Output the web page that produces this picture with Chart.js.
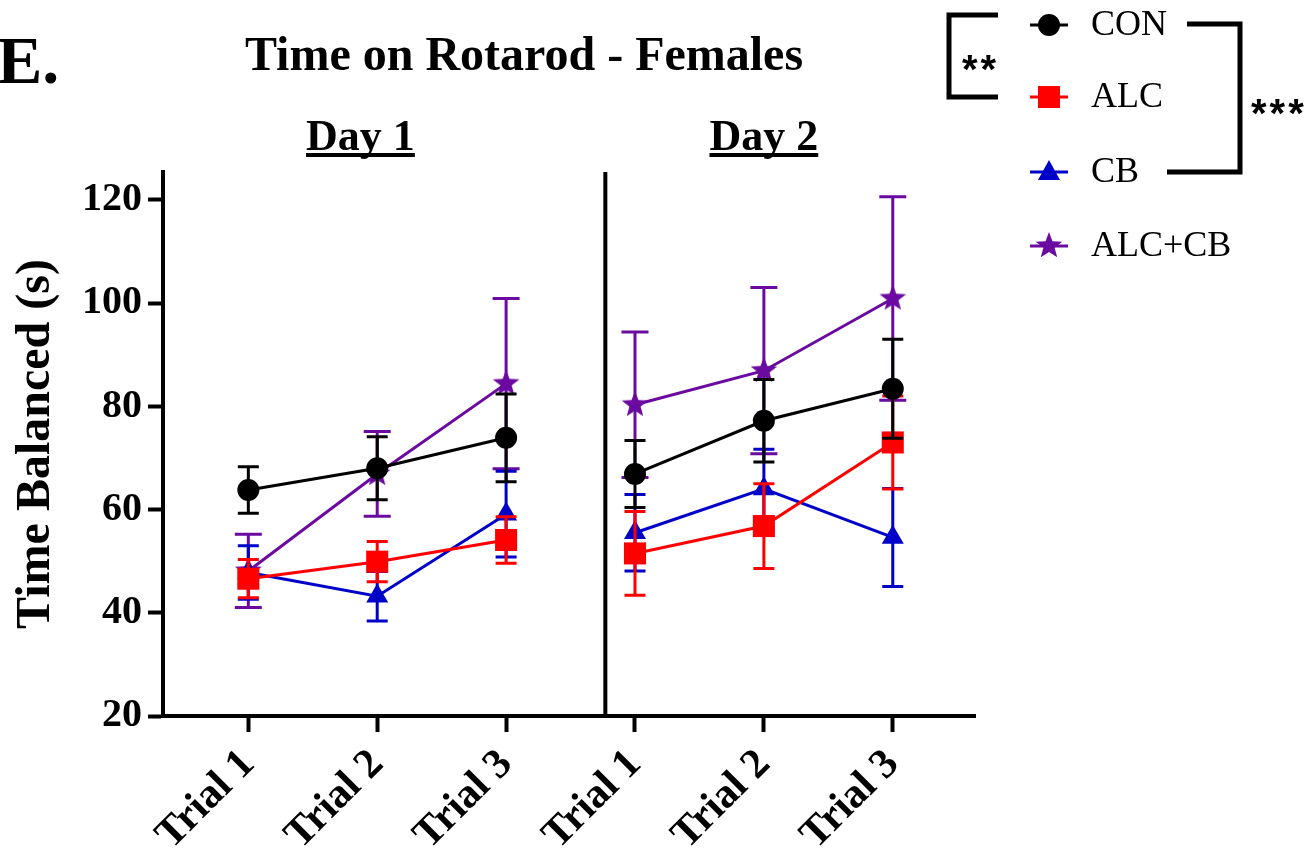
<!DOCTYPE html>
<html>
<head>
<meta charset="utf-8">
<script src="https://cdn.jsdelivr.net/npm/chart.js@4.4.0/dist/chart.umd.min.js"></script>
<style>
  body { margin: 0; background: #fff; }
  #wrap { width: 1311px; height: 850px; }
</style>
</head>
<body>
<div id="wrap"><canvas id="rotarod" width="1311" height="850"></canvas></div>
<script>
// trials in order: Day 1 (1-3), Day 2 (4-6)
const trialPos    = [1, 2, 3, 4, 5, 6]
const trialLabels = ['Trial 1', 'Trial 2', 'Trial 3', 'Trial 1', 'Trial 2', 'Trial 3']
const dayLabels   = ['Day 1', 'Day 2']
const dayCenters  = [1.87, 5.0]
const dayBreak    = 3.77
const yTicks      = [20, 40, 60, 80, 100, 120]

// mean time balanced (s) and SEM per group
const conMean = [63.8, 68.0, 73.9, 66.9, 77.2, 83.4]
const conSem  = [4.5, 6.1, 8.5, 6.5, 8.0, 9.6]
const alcMean = [46.6, 49.9, 54.1, 51.5, 56.8, 73.0]
const alcSem  = [3.7, 3.9, 4.5, 8.1, 8.2, 9.0]
const cbMean  = [47.8, 43.2, 59.1, 55.5, 64.0, 54.6]
const cbSem   = [5.2, 4.8, 8.3, 7.4, 7.7, 9.5]
const mixMean = [48.1, 66.9, 84.4, 80.3, 86.9, 100.9]
const mixSem  = [7.1, 8.2, 16.5, 14.1, 16.1, 19.7]

const groupNames = ['CON', 'ALC', 'CB', 'ALC+CB']

const SERIF = '"Liberation Serif", "Times New Roman", serif'
const RED = '#ff0000', BLUE = '#0000c8', PURPLE = '#6a0aa0'

function drawStar(g, cx, cy, r, color) {
  g.beginPath()
  for (let k = 0; k < 10; k++) {
    const rr = k % 2 ? r * 0.42 : r
    const a = -Math.PI / 2 + k * Math.PI / 5
    g.lineTo(cx + rr * Math.cos(a), cy + rr * Math.sin(a))
  }
  g.closePath()
  g.fillStyle = color
  g.fill()
}

function starImage(color, r) {
  const c = document.createElement('canvas')
  c.width = c.height = Math.ceil(r * 2) + 2
  drawStar(c.getContext('2d'), c.width / 2, c.height / 2, r, color)
  return c
}
const starPt = starImage(PURPLE, 14)

function points(means) {
  return means.map((m, i) => ({ x: trialPos[i], y: m }))
}

// no line between the last trial of Day 1 and first of Day 2
const dayGap = { borderColor: c => c.p0DataIndex === 2 ? 'rgba(0,0,0,0)' : undefined }

function series(label, means, sem, color, style, radius, cap) {
  return {
    label: label,
    data: points(means),
    sem: sem,
    capWidth: cap,
    borderColor: color,
    backgroundColor: color,
    borderWidth: 3,
    pointStyle: style,
    pointRadius: radius,
    pointBorderWidth: 0,
    pointHoverRadius: radius,
    segment: dayGap
  }
}

// error bars go down with each dataset, just before its line and markers
const errorBars = {
  id: 'errorBars',
  beforeDatasetDraw(chart, args) {
    const ds = chart.data.datasets[args.index]
    const ctx = chart.ctx
    const y = chart.scales.y
    ctx.save()
    ctx.strokeStyle = ds.borderColor
    ctx.lineWidth = 3
    args.meta.data.forEach((pt, i) => {
      const m = ds.data[i].y, e = ds.sem[i]
      const top = y.getPixelForValue(m + e), bot = y.getPixelForValue(m - e)
      const w = ds.capWidth / 2
      ctx.beginPath()
      ctx.moveTo(pt.x, top); ctx.lineTo(pt.x, bot)
      ctx.moveTo(pt.x - w, top); ctx.lineTo(pt.x + w, top)
      ctx.moveTo(pt.x - w, bot); ctx.lineTo(pt.x + w, bot)
      ctx.stroke()
    })
    ctx.restore()
  }
}

// panel letter, title, day headers, day divider, legend + significance brackets
const decorations = {
  id: 'decorations',
  afterDraw(chart) {
    const ctx = chart.ctx
    const xs = chart.scales.x
    const area = chart.chartArea
    ctx.save()
    ctx.fillStyle = '#000'
    ctx.strokeStyle = '#000'

    ctx.textBaseline = 'alphabetic'
    ctx.textAlign = 'left'
    ctx.font = 'bold 68px ' + SERIF
    ctx.fillText('E.', -3, 83)

    ctx.textAlign = 'center'
    ctx.font = 'bold 48px ' + SERIF
    ctx.fillText('Time on Rotarod - Females', 524, 70)

    ctx.font = 'bold 44px ' + SERIF
    dayLabels.forEach((d, i) => {
      const cx = xs.getPixelForValue(dayCenters[i])
      const w = ctx.measureText(d).width
      ctx.fillText(d, cx, 150)
      ctx.fillRect(cx - w / 2, 153, w, 4)
    })

    const bx = xs.getPixelForValue(dayBreak)
    ctx.lineWidth = 4
    ctx.beginPath()
    ctx.moveTo(bx, area.top)
    ctx.lineTo(bx, area.bottom)
    ctx.stroke()

    // legend
    const legendY = [25, 97, 172, 246]
    const ds = chart.data.datasets
    ctx.font = '36px ' + SERIF
    ctx.textAlign = 'left'
    ctx.textBaseline = 'middle'
    ds.forEach((d, i) => {
      const ly = legendY[i]
      ctx.strokeStyle = d.borderColor
      ctx.lineWidth = 3
      ctx.beginPath()
      ctx.moveTo(1030, ly); ctx.lineTo(1068, ly)
      ctx.stroke()
      ctx.fillStyle = d.borderColor
      if (i === 0) {
        ctx.beginPath(); ctx.arc(1049, ly, 11, 0, Math.PI * 2); ctx.fill()
      } else if (i === 1) {
        ctx.fillRect(1038, ly - 11, 22, 22)
      } else if (i === 2) {
        ctx.beginPath()
        ctx.moveTo(1049, ly - 12); ctx.lineTo(1060, ly + 8); ctx.lineTo(1038, ly + 8)
        ctx.closePath(); ctx.fill()
      } else {
        drawStar(ctx, 1049, ly, 14, d.borderColor)
      }
      ctx.fillStyle = '#000'
      ctx.fillText(d.label, 1091, ly + 1)
    })

    ctx.strokeStyle = '#000'
    ctx.lineWidth = 5
    ctx.beginPath()
    ctx.moveTo(998, 15); ctx.lineTo(949, 15); ctx.lineTo(949, 97); ctx.lineTo(998, 97)
    ctx.moveTo(1187, 24); ctx.lineTo(1240, 24); ctx.lineTo(1240, 172); ctx.lineTo(1167, 172)
    ctx.stroke()

    ctx.font = 'bold 40px "Liberation Sans", Arial, sans-serif'
    ctx.textAlign = 'left'
    ctx.textBaseline = 'alphabetic'
    ctx.letterSpacing = '3px'
    ctx.fillText('**', 962, 83)
    ctx.fillText('***', 1251, 127)
    ctx.restore()
  }
}

new Chart(document.getElementById('rotarod').getContext('2d'), {
  type: 'line',
  data: {
    datasets: [
      series(groupNames[0], conMean, conSem, '#000000', 'circle', 11, 21),
      series(groupNames[1], alcMean, alcSem, RED, 'rect', 15.6, 21),
      series(groupNames[2], cbMean, cbSem, BLUE, 'triangle', 12.7, 21),
      series(groupNames[3], mixMean, mixSem, PURPLE, starPt, 14, 27)
    ]
  },
  options: {
    responsive: false,
    animation: false,
    layout: { padding: { top: 172, right: 336, left: 0, bottom: 0 } },
    plugins: {
      legend: { display: false },
      tooltip: { enabled: false }
    },
    scales: {
      x: {
        type: 'linear',
        min: 0.338,
        max: 6.638,
        afterBuildTicks: s => { s.ticks = trialPos.map(v => ({ value: v })) },
        afterFit: s => { s.height = 134 },
        border: { display: true, color: '#000', width: 4 },
        grid: { drawOnChartArea: false, drawTicks: true, tickLength: 16, tickWidth: 4, color: '#000' },
        ticks: {
          autoSkip: false,
          minRotation: 45,
          maxRotation: 45,
          padding: 8,
          color: '#000',
          font: { family: SERIF, size: 42, weight: 'bold' },
          callback: v => trialLabels[trialPos.indexOf(v)]
        }
      },
      y: {
        min: 20,
        max: 125.4,
        afterBuildTicks: s => { s.ticks = yTicks.map(v => ({ value: v })) },
        afterFit: s => { s.width = 163 },
        border: { display: true, color: '#000', width: 4 },
        grid: { drawOnChartArea: false, drawTicks: true, tickLength: 15, tickWidth: 4, color: '#000' },
        ticks: {
          padding: 6,
          color: '#000',
          font: { family: SERIF, size: 40, weight: 'bold' }
        },
        title: {
          display: true,
          text: 'Time Balanced (s)',
          color: '#000',
          padding: { top: 8, bottom: 0 },
          font: { family: SERIF, size: 48, weight: 'bold' }
        }
      }
    }
  },
  plugins: [errorBars, decorations]
})
</script>
</body>
</html>
